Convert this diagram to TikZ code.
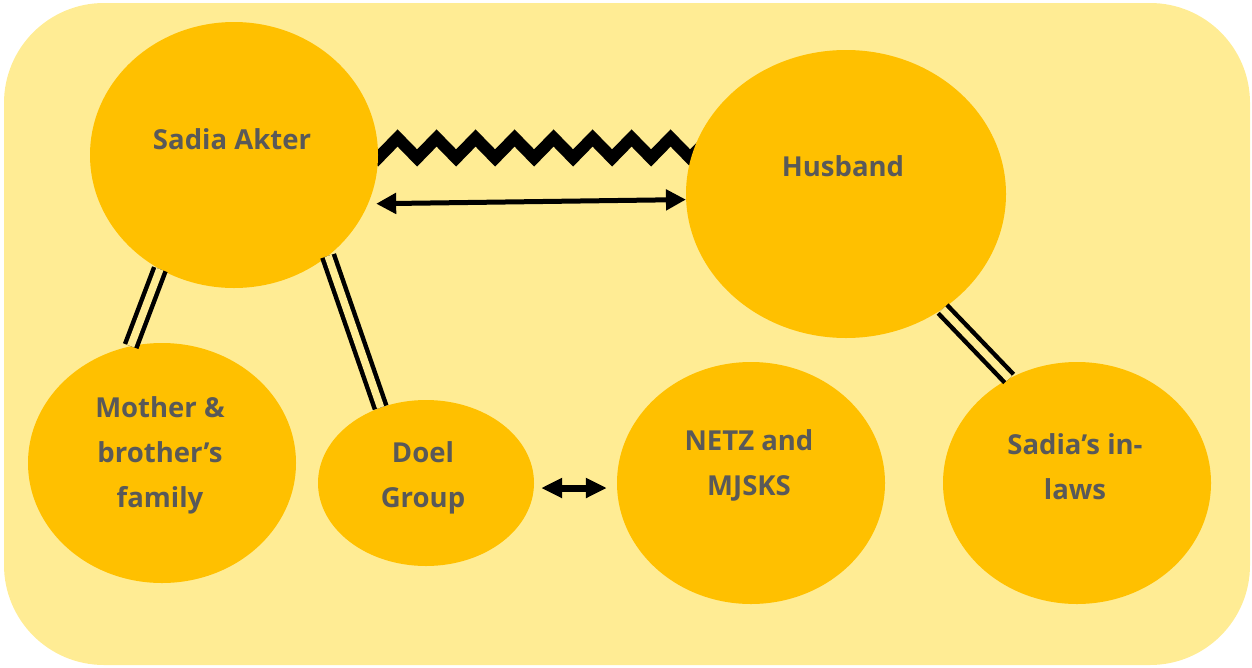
\documentclass[tikz,border=0pt]{standalone}
\usepackage{fontspec}
\setmainfont{Open Sans}
\usetikzlibrary{shapes.geometric,arrows.meta,calc}
\definecolor{bgyellow}{HTML}{FFEC94}
\definecolor{circ}{HTML}{FFC000}
\definecolor{txt}{HTML}{595959}
\pgfdeclarelayer{bottom}
\pgfdeclarelayer{middle}
\pgfsetlayers{bottom,middle,main}
\begin{document}
\begin{tikzpicture}[x=1pt,y=-1pt,
  bubble/.style={ellipse,fill=circ,draw=none,inner sep=0pt},
  lbl/.style={text=txt,align=center,font=\bfseries\fontsize{27.5}{45}\selectfont,inner sep=0pt},
  dbl/.style={double=bgyellow,double distance=7.5pt,line width=4.5pt,draw=black},
  arr/.style={line width=5pt,{Triangle[length=20pt,width=20pt]}-{Triangle[length=20pt,width=20pt]}},
  zz/.style={line width=12pt,line join=miter,miter limit=10}]
\useasboundingbox (0,0) rectangle (1252,667);
\begin{pgfonlayer}{bottom}
\fill[bgyellow,rounded corners=100pt] (4,3) rectangle (1250,665);
\end{pgfonlayer}
% bubbles
\node[bubble,minimum width=288pt,minimum height=266pt] (sadia) at (234,155) {};
\node[bubble,minimum width=320pt,minimum height=288pt] (husband) at (846,194) {};
\node[bubble,minimum width=268pt,minimum height=240pt] (mother) at (162,463) {};
\node[bubble,minimum width=216pt,minimum height=166pt] (doel) at (426,483) {};
\node[bubble,minimum width=268pt,minimum height=242pt] (netz) at (751,483) {};
\node[bubble,minimum width=268pt,minimum height=242pt] (inlaws) at (1077,483) {};
% labels
\node[lbl] (tsadia) at (232,139) {Sadia Akter};
\node[lbl] (thusband) at (843,166) {Husband};
\node[lbl] (tmother) at (160,455) {Mother \&\\brother’s\\family};
\node[lbl] (tdoel) at (423,478) {Doel\\Group};
\node[lbl] (tnetz) at (749,465) {NETZ and\\MJSKS};
\node[lbl] (tinlaws) at (1075,467) {Sadia’s in-\\laws};
% connectors
\begin{pgfonlayer}{middle}
\draw[zz] ($(sadia.2)+(-39,8)$) \foreach \i in {1,...,10} { -- ++(19.5,-20) -- ++(19.5,20)};
\end{pgfonlayer}
\draw[dbl] (sadia.237) -- (mother.105);
\draw[dbl] (sadia.313.5) -- (doel.121.7);
\draw[dbl] (husband.310.9) -- (inlaws.123.7);
\draw[arr,shorten <=8pt] (sadia.-20) -- (husband.182);
\draw[line width=7pt,{Triangle[length=21pt,width=19pt]}-{Triangle[length=21pt,width=19pt]}]
  ($(doel.east)+(7,5)$) -- ($(netz.west)+(-10,5)$);
\end{tikzpicture}
\end{document}
